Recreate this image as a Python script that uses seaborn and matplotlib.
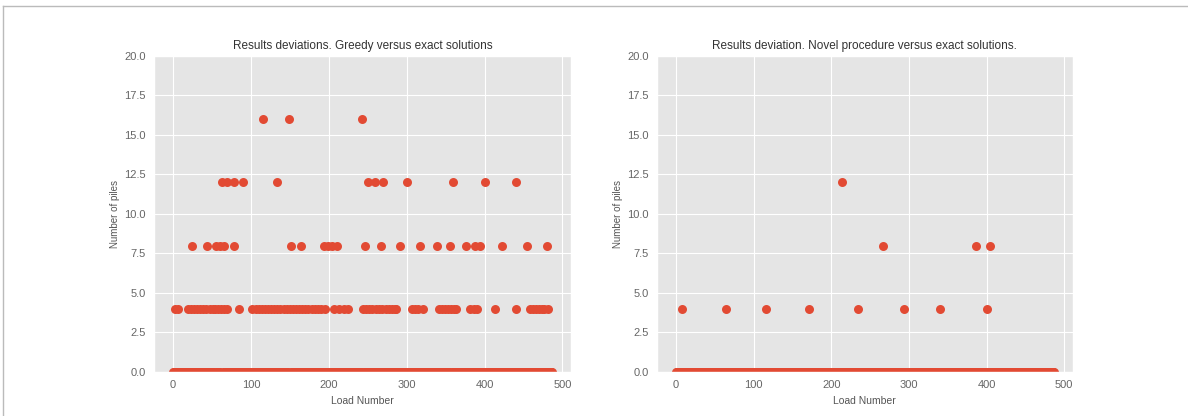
import numpy as np
import pandas as pd
import seaborn as sns
import matplotlib.pyplot as plt
from matplotlib.lines import Line2D

# ---------------- DATA ----------------
n_loads = 488

# greedy vs exact : load numbers per deviation level
greedy_dev4 = [2, 6, 19, 23, 27, 31, 35, 39, 42, 47, 51, 54, 58, 62, 65, 69, 85,
               102, 106, 110, 114, 118, 122, 126, 130, 134, 138, 142, 146, 150, 154,
               158, 162, 166, 170, 174, 178, 182, 186, 190, 195, 207, 213, 219, 225,
               244, 248, 252, 256, 261, 265, 269, 273, 277, 281, 285, 287,
               307, 311, 315, 321, 341, 345, 349, 353, 357, 361, 364,
               382, 386, 390, 413, 440, 458, 462, 466, 470, 474, 477, 481]
greedy_dev8 = [25, 44, 55, 60, 66, 79, 152, 165, 194, 199, 204, 211, 247, 267, 292,
               317, 339, 356, 376, 388, 394, 422, 454, 480]
greedy_dev12 = [63, 70, 78, 90, 133, 250, 260, 270, 300, 360, 400, 441]
greedy_dev16 = [115, 149, 243]

# novel procedure vs exact
novel_dev4 = [8, 64, 116, 171, 234, 294, 340, 401]
novel_dev8 = [267, 387, 405]
novel_dev12 = [214]

titles = ["Results deviations. Greedy versus exact solutions",
          "Results deviation. Novel procedure versus exact solutions."]


def build(levels):
    y = np.zeros(n_loads)
    for val, idx in levels.items():
        y[idx] = val
    return pd.DataFrame({'load': np.arange(n_loads), 'piles': y})


greedy = build({4: greedy_dev4, 8: greedy_dev8, 12: greedy_dev12, 16: greedy_dev16})
novel = build({4: novel_dev4, 8: novel_dev8, 12: novel_dev12})

# ---------------- PLOT ----------------
plt.style.use('ggplot')
plt.rcParams['font.family'] = ['Liberation Sans', 'DejaVu Sans']

fig = plt.figure(figsize=(11.88, 4.16), dpi=100)
ax1 = fig.add_axes([0.1296, 0.1058, 0.351, 0.7596])
ax2 = fig.add_axes([0.553, 0.1058, 0.350, 0.7596])

for ax, df, titre in [(ax1, greedy, titles[0]), (ax2, novel, titles[1])]:
    sns.scatterplot(data=df, x='load', y='piles', ax=ax, color='#E24A33',
                    s=42, linewidth=0)
    ax.set_ylim(0, 20)
    ax.set_xlim(-24.4, 511)
    ax.set_yticks(np.arange(0, 20.1, 2.5))
    ax.set_xticks([0, 100, 200, 300, 400, 500])
    ax.set_title(titre, fontsize=8.5, color='#333333', pad=5)
    ax.set_xlabel('Load Number', fontsize=7.5, color='#555555', labelpad=4)
    ax.set_ylabel('Number of piles', fontsize=7, color='#555555', labelpad=3)
    ax.tick_params(labelsize=8, colors='#666666', length=0, pad=6)

# thin frame line like the screenshot border
fig.add_artist(Line2D([0.0025, 1], [0.986, 0.986], color='#bbbbbb', lw=1))
fig.add_artist(Line2D([0.0025, 0.0025], [0, 0.986], color='#bbbbbb', lw=1))

plt.savefig('out.png', dpi=100)
plt.close()
